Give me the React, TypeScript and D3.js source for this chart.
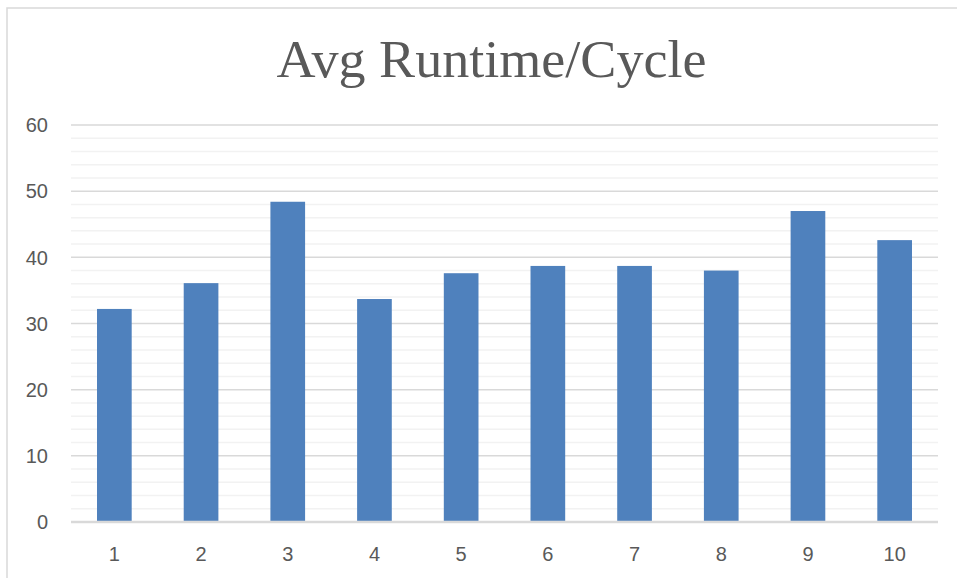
import React from "react";
import * as d3 from "d3";

const categories = ["1", "2", "3", "4", "5", "6", "7", "8", "9", "10"];
const runtimes = [32.2, 36.1, 48.4, 33.7, 37.6, 38.7, 38.7, 38.0, 47.0, 42.6];
const yMajorTicks = [0, 10, 20, 30, 40, 50, 60];
const yMinorTicks = [2, 4, 6, 8, 12, 14, 16, 18, 22, 24, 26, 28, 32, 34, 36, 38, 42, 44, 46, 48, 52, 54, 56, 58];
const title = "Avg Runtime/Cycle";

export default function App() {
  const W = 957, H = 578;
  const left = 71, right = 938, top = 125, bottom = 522;
  const x = d3.scaleBand<string>().domain(categories).range([left, right]).paddingInner(0.6).paddingOuter(0.3);
  const y = d3.scaleLinear().domain([0, 60]).range([bottom, top]);
  const textColor = "#595959";
  return (
    <svg width={W} height={H} style={{ position: "absolute", left: 0, top: 0 }}>
      <rect x={0} y={0} width={W} height={H} fill="#fff" />
      <rect x={7} y={8} width={W + 20} height={H + 20} fill="#fff" stroke="#d9d9d9" strokeWidth={1.5} />
      <text x={491.5} y={77} textAnchor="middle" fontFamily="'Liberation Serif', serif" fontSize={53} fill={textColor} textLength={430} lengthAdjust="spacingAndGlyphs">{title}</text>
      {yMinorTicks.map((t) => (
        <line key={"m" + t} x1={left} x2={right} y1={y(t)} y2={y(t)} stroke="#f2f2f2" strokeWidth={1.5} />
      ))}
      {yMajorTicks.filter((t) => t !== 0).map((t) => (
        <line key={"M" + t} x1={left} x2={right} y1={y(t)} y2={y(t)} stroke="#d9d9d9" strokeWidth={1.5} />
      ))}
      {categories.map((c, i) => (
        <rect key={c} x={x(c)} y={y(runtimes[i])} width={x.bandwidth()} height={y(0) - y(runtimes[i])} fill="#4f81bd" />
      ))}
      <line x1={left} x2={right} y1={y(0)} y2={y(0)} stroke="#d9d9d9" strokeWidth={2.5} />
      {yMajorTicks.map((t) => (
        <text key={"l" + t} x={48} y={y(t)} dy="0.36em" textAnchor="end" fontFamily="'Liberation Sans', Arial, sans-serif" fontSize={20} fill={textColor}>{t}</text>
      ))}
      {categories.map((c) => (
        <text key={"x" + c} x={(x(c) as number) + x.bandwidth() / 2} y={561} textAnchor="middle" fontFamily="'Liberation Sans', Arial, sans-serif" fontSize={20} fill={textColor}>{c}</text>
      ))}
    </svg>
  );
}
